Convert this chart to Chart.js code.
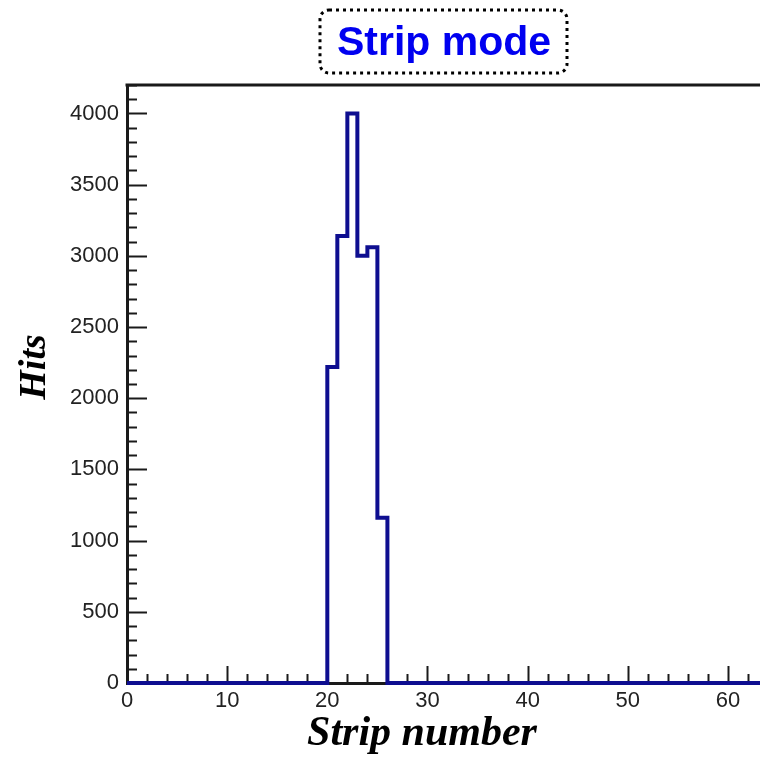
<!DOCTYPE html>
<html>
<head>
<meta charset="utf-8">
<script src="https://cdn.jsdelivr.net/npm/chart.js@4.4.1/dist/chart.umd.min.js"></script>
<style>
  html, body { margin: 0; padding: 0; background: #fff; overflow: hidden; }
  #wrap { width: 760px; height: 757px; overflow: hidden; position: relative; }
  #c { display: block; }
</style>
</head>
<body>
<div id="wrap"><canvas id="c" width="800" height="757"></canvas></div>
<script>
// ---- Data ----
const chartTitle = "Strip mode";
const xTitle = "Strip number";
const yTitle = "Hits";
const strips = [0,1,2,3,4,5,6,7,8,9,10,11,12,13,14,15,16,17,18,19,20,21,22,23,24,25,26,27,28,29,30,31,
                32,33,34,35,36,37,38,39,40,41,42,43,44,45,46,47,48,49,50,51,52,53,54,55,56,57,58,59,60,61,62,63];
const hits = [0,0,0,0,0,0,0,0,0,0,0,0,0,0,0,0,0,0,0,0,2220,3140,4000,3000,3060,1160,0,0,0,0,0,0,
              0,0,0,0,0,0,0,0,0,0,0,0,0,0,0,0,0,0,0,0,0,0,0,0,0,0,0,0,0,0,0,0];
const xTickLabels = [0,10,20,30,40,50,60];
const yTickLabels = [0,500,1000,1500,2000,2500,3000,3500,4000];
const xRange = [0, 64];
const yRange = [0, 4200];

// histogram steps built from the bins (each bin spans [strip, strip+1])
const points = strips.map((s, i) => ({x: s, y: hits[i]}));
points.push({x: xRange[1], y: hits[hits.length - 1]});

const INK = '#1a1a1a';

const decor = {
  id: 'decor',
  beforeDatasetsDraw(chart) {
    const {ctx, chartArea: a, scales: {x, y}} = chart;
    ctx.save();
    ctx.strokeStyle = INK;
    // top frame
    ctx.lineWidth = 3;
    ctx.beginPath();
    ctx.moveTo(a.left - 1.5, a.top);
    ctx.lineTo(a.right, a.top);
    ctx.stroke();
    // inside ticks x
    ctx.lineWidth = 2;
    for (let v = xRange[0]; v <= xRange[1]; v += 2) {
      const px = Math.round(x.getPixelForValue(v)) + 0.5;
      const len = (v % 10 === 0) ? 17 : 9;
      ctx.beginPath();
      ctx.moveTo(px, a.bottom);
      ctx.lineTo(px, a.bottom - len);
      ctx.stroke();
    }
    // inside ticks y
    for (let v = yRange[0]; v <= yRange[1]; v += 100) {
      const py = Math.round(y.getPixelForValue(v)) + 0.5;
      const len = (v % 500 === 0) ? 20 : 10;
      ctx.beginPath();
      ctx.moveTo(a.left, py);
      ctx.lineTo(a.left + len, py);
      ctx.stroke();
    }
    ctx.restore();
  },
  afterDraw(chart) {
    const {ctx} = chart;
    ctx.save();
    // title box
    const bx = 320, by = 10, bw = 247, bh = 63, r = 9;
    ctx.strokeStyle = '#000';
    ctx.lineWidth = 3;
    ctx.setLineDash([3, 4]);
    ctx.beginPath();
    ctx.roundRect(bx, by, bw, bh, r);
    ctx.stroke();
    ctx.setLineDash([]);
    ctx.fillStyle = '#0000f0';
    ctx.font = 'bold 41px "Liberation Sans", Arial, sans-serif';
    ctx.textAlign = 'center';
    ctx.textBaseline = 'alphabetic';
    ctx.fillText(chartTitle, 444, 55);
    // x title
    ctx.fillStyle = '#000';
    ctx.font = 'italic bold 42px "Liberation Serif", "Times New Roman", serif';
    ctx.fillText(xTitle, 422, 745);
    // y title
    ctx.translate(45, 367);
    ctx.rotate(-Math.PI / 2);
    ctx.font = 'italic bold 38px "Liberation Serif", "Times New Roman", serif';
    ctx.fillText(yTitle, 0, 0);
    ctx.restore();
  }
};

new Chart(document.getElementById('c'), {
  type: 'line',
  data: {
    datasets: [{
      label: yTitle,
      data: points,
      stepped: 'before',
      borderColor: '#0e0e90',
      borderWidth: 4,
      pointRadius: 0,
      fill: false,
      clip: 6
    }]
  },
  options: {
    responsive: false,
    animation: false,
    layout: { padding: { left: 0, right: 32, top: 85, bottom: 0 } },
    plugins: { legend: { display: false }, tooltip: { enabled: false }, title: { display: false } },
    scales: {
      x: {
        type: 'linear',
        min: xRange[0], max: xRange[1],
        grid: { display: true, drawOnChartArea: false, drawTicks: false },
        border: { display: true, color: INK, width: 3 },
        afterBuildTicks: s => { s.ticks = xTickLabels.map(v => ({value: v})); },
        afterFit: s => { s.height = 74; },
        ticks: {
          autoSkip: false, maxRotation: 0, padding: 5,
          color: '#222',
          callback: v => String(v),
          font: { family: '"Liberation Sans", Arial, sans-serif', size: 22 }
        }
      },
      y: {
        type: 'linear',
        min: yRange[0], max: yRange[1],
        grid: { display: true, drawOnChartArea: false, drawTicks: false },
        border: { display: true, color: INK, width: 3 },
        afterBuildTicks: s => { s.ticks = yTickLabels.map(v => ({value: v})); },
        afterFit: s => { s.width = 127; },
        ticks: {
          autoSkip: false, padding: 8,
          color: '#222',
          callback: v => String(v),
          font: { family: '"Liberation Sans", Arial, sans-serif', size: 22 }
        }
      }
    }
  },
  plugins: [decor]
});
</script>
</body>
</html>
